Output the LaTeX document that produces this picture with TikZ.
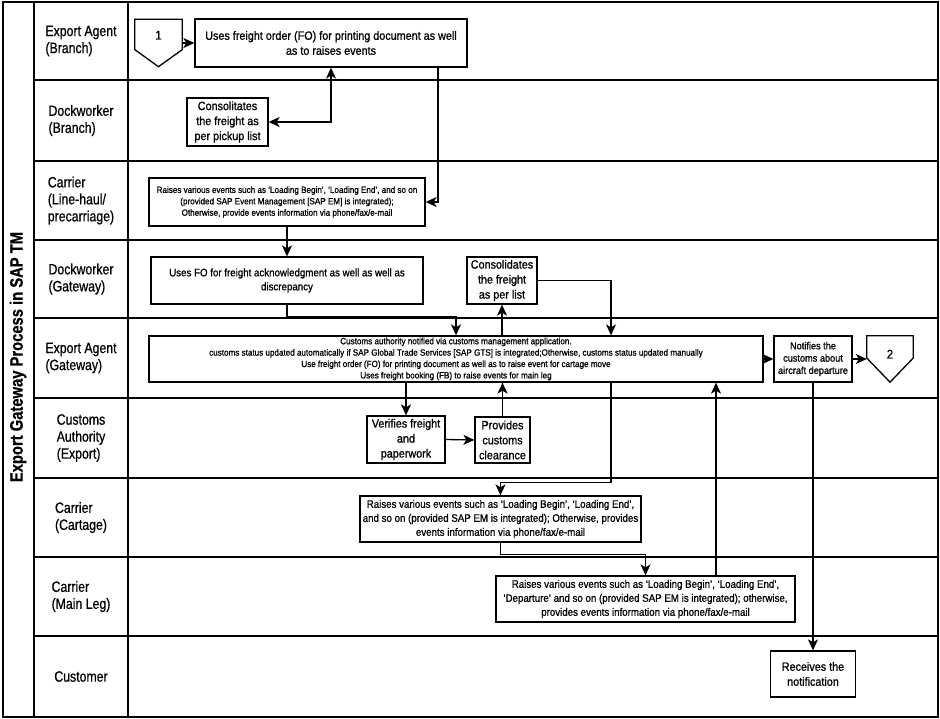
\documentclass[tikz,border=0pt]{standalone}
\usepackage{fontspec}
\setmainfont{Liberation Sans}[FakeStretch=0.9, FakeBold=0.9]
\newfontfamily\lanefont{Liberation Sans}[FakeStretch=0.82, FakeBold=0.7]
\usetikzlibrary{arrows.meta,calc}

\begin{document}
\begin{tikzpicture}[x=1pt, y=-1pt,
  lane/.style={line width=1.6pt},
  lanelbl/.style={align=left, font=\lanefont\fontsize{15}{17}\selectfont},
  task/.style={draw, line width=1.3pt, align=center, inner sep=0pt, fill=white, font=\fontsize{12}{15}\selectfont},
  midtxt/.style={font=\fontsize{10.8}{14}\selectfont},
  smalltxt/.style={font=\fontsize{9}{11.4}\selectfont},
  offpage/.style={inner sep=0pt, minimum width=47pt, minimum height=47pt, font=\fontsize{12.5}{14}\selectfont},
  pent/.style={line width=1.3pt},
  arr/.style={-{Stealth[length=11pt,width=10pt,inset=3pt]}, line width=1.3pt}
]
\useasboundingbox (0,0) rectangle (940,719);

% frame and lanes
\draw[lane] (3,2) rectangle (938,717);
\draw[lane] (34,2) -- (34,717);
\draw[lane] (128,2) -- (128,717);
\foreach \y in {80,161,240,318,398,478,557,636}
  \draw[lane] (34,\y) -- (938,\y);

\node[rotate=90, font=\lanefont\bfseries\fontsize{18}{20}\selectfont] (title) at (18,357) {Export Gateway Process in SAP TM};

\foreach \y/\txt [count=\i] in {41/{Export Agent\\(Branch)}, 120.5/{Dockworker\\(Branch)},
    200.5/{Carrier\\(Line-haul/\\precarriage)}, 279/{Dockworker\\(Gateway)},
    358/{Export Agent\\(Gateway)}, 438/{Customs\\Authority\\(Export)},
    517.5/{Carrier\\(Cartage)}, 596.5/{Carrier\\(Main Leg)}, 676.5/{Customer}}
  \node[lanelbl] (lane\i) at (81,\y) {\txt};

% tasks
\node[offpage] (c1) at (158.5,43) {\raisebox{3.5pt}[0pt][0pt]{1}};
\draw[pent] (c1.north west) -- (c1.north east) -- ($(c1.north east)!0.64!(c1.south east)$)
  -- (c1.south) -- ($(c1.north west)!0.64!(c1.south west)$) -- cycle;
\node[task, minimum width=272pt, minimum height=48pt] (fo) at (331,43)
  {Uses freight order (FO) for printing document as well\\as to raises events};
\node[task, minimum width=81pt, minimum height=48pt] (cfb) at (227.5,122)
  {Consolitates\\the freight as\\per pickup list};
\node[task, smalltxt, minimum width=276pt, minimum height=48pt] (lhc) at (287,202)
  {Raises various events such as ‘Loading Begin’, ‘Loading End’, and so on\\(provided SAP Event Management [SAP EM] is integrated);\\Otherwise, provide events information via phone/fax/e-mail};
\node[task, midtxt, minimum width=272pt, minimum height=47pt] (ufo) at (287,280.5)
  {Uses FO for freight acknowledgment as well as well as\\discrepancy};
\node[task, minimum width=70pt, minimum height=47pt] (cfg) at (502,280.5)
  {Consolidates\\the freight\\as per list};
\node[task, smalltxt, minimum width=614pt, minimum height=46pt] (eag) at (456,359)
  {Customs authority notified via customs management application.\\customs status updated automatically if SAP Global Trade Services [SAP GTS] is integrated;Otherwise, customs status updated manually\\Use freight order (FO) for printing document as well as to raise event for cartage move\\Uses freight booking (FB) to raise events for main leg};
\node[task, font=\fontsize{10.2}{12.3}\selectfont, minimum width=78pt, minimum height=46pt] (ncd) at (813,359)
  {Notifies the\\customs about\\aircraft departure};
\node[offpage, minimum width=46pt, minimum height=46pt] (c2) at (890,359) {\raisebox{0.5pt}[0pt][0pt]{2}};
\draw[pent] (c2.north west) -- (c2.north east) -- ($(c2.north east)!0.48!(c2.south east)$)
  -- (c2.south) -- ($(c2.north west)!0.48!(c2.south west)$) -- cycle;
\node[task, minimum width=78pt, minimum height=47pt] (vf) at (406,439.5)
  {Verifies freight\\and\\paperwork};
\node[task, minimum width=55pt, minimum height=46pt] (pcc) at (502.5,440)
  {Provides\\customs\\clearance};
\node[task, midtxt, minimum width=281pt, minimum height=46pt] (cart) at (500.5,519)
  {Raises various events such as ‘Loading Begin’, ‘Loading End’,\\and so on (provided SAP EM is integrated); Otherwise, provides\\events information via phone/fax/e-mail};
\node[task, midtxt, minimum width=299pt, minimum height=46pt] (ml) at (645.5,599)
  {Raises various events such as ‘Loading Begin’, ‘Loading End’,\\‘Departure’ and so on (provided SAP EM is integrated); otherwise,\\provides events information via phone/fax/e-mail};
\node[task, minimum width=85pt, minimum height=46pt] (rtn) at (813,674)
  {Receives the\\notification};

% flow
\draw[arr] (c1.east) -- (fo.west);
\draw[arr, {Stealth[length=11pt,width=10pt,inset=3pt]}-{Stealth[length=11pt,width=10pt,inset=3pt]}] (cfb.east) -| (fo.south);
\draw[arr] ([xshift=107pt]fo.south) |- (lhc.east);
\draw[arr] (lhc.south) -- (ufo.north);
\draw[arr] (ufo.south) -- ++(0,12) -| (eag.north);
\draw[arr] (cfg.south |- eag.north) -- (cfg.south);
\draw[arr] (cfg.east) -| ([xshift=155pt]eag.north);
\draw[arr] (vf.north |- eag.south) -- (vf.north);
\draw[arr] (vf.east) -- (pcc.west);
\draw[arr] (pcc.north) -- (pcc.north |- eag.south);
\draw[arr] ([xshift=155pt]eag.south) -- ++(0,100) -| (cart.north);
\draw[arr] (cart.south) -- ++(0,12) -| (ml.north);
\draw[arr] ([xshift=70.5pt]ml.north) -- ([xshift=70.5pt]ml.north |- eag.south);
\draw[arr] (eag.east) -- (ncd.west);
\draw[arr] (ncd.east) -- (c2.west);
\draw[arr] (ncd.south) -- (rtn.north);
\end{tikzpicture}
\end{document}
